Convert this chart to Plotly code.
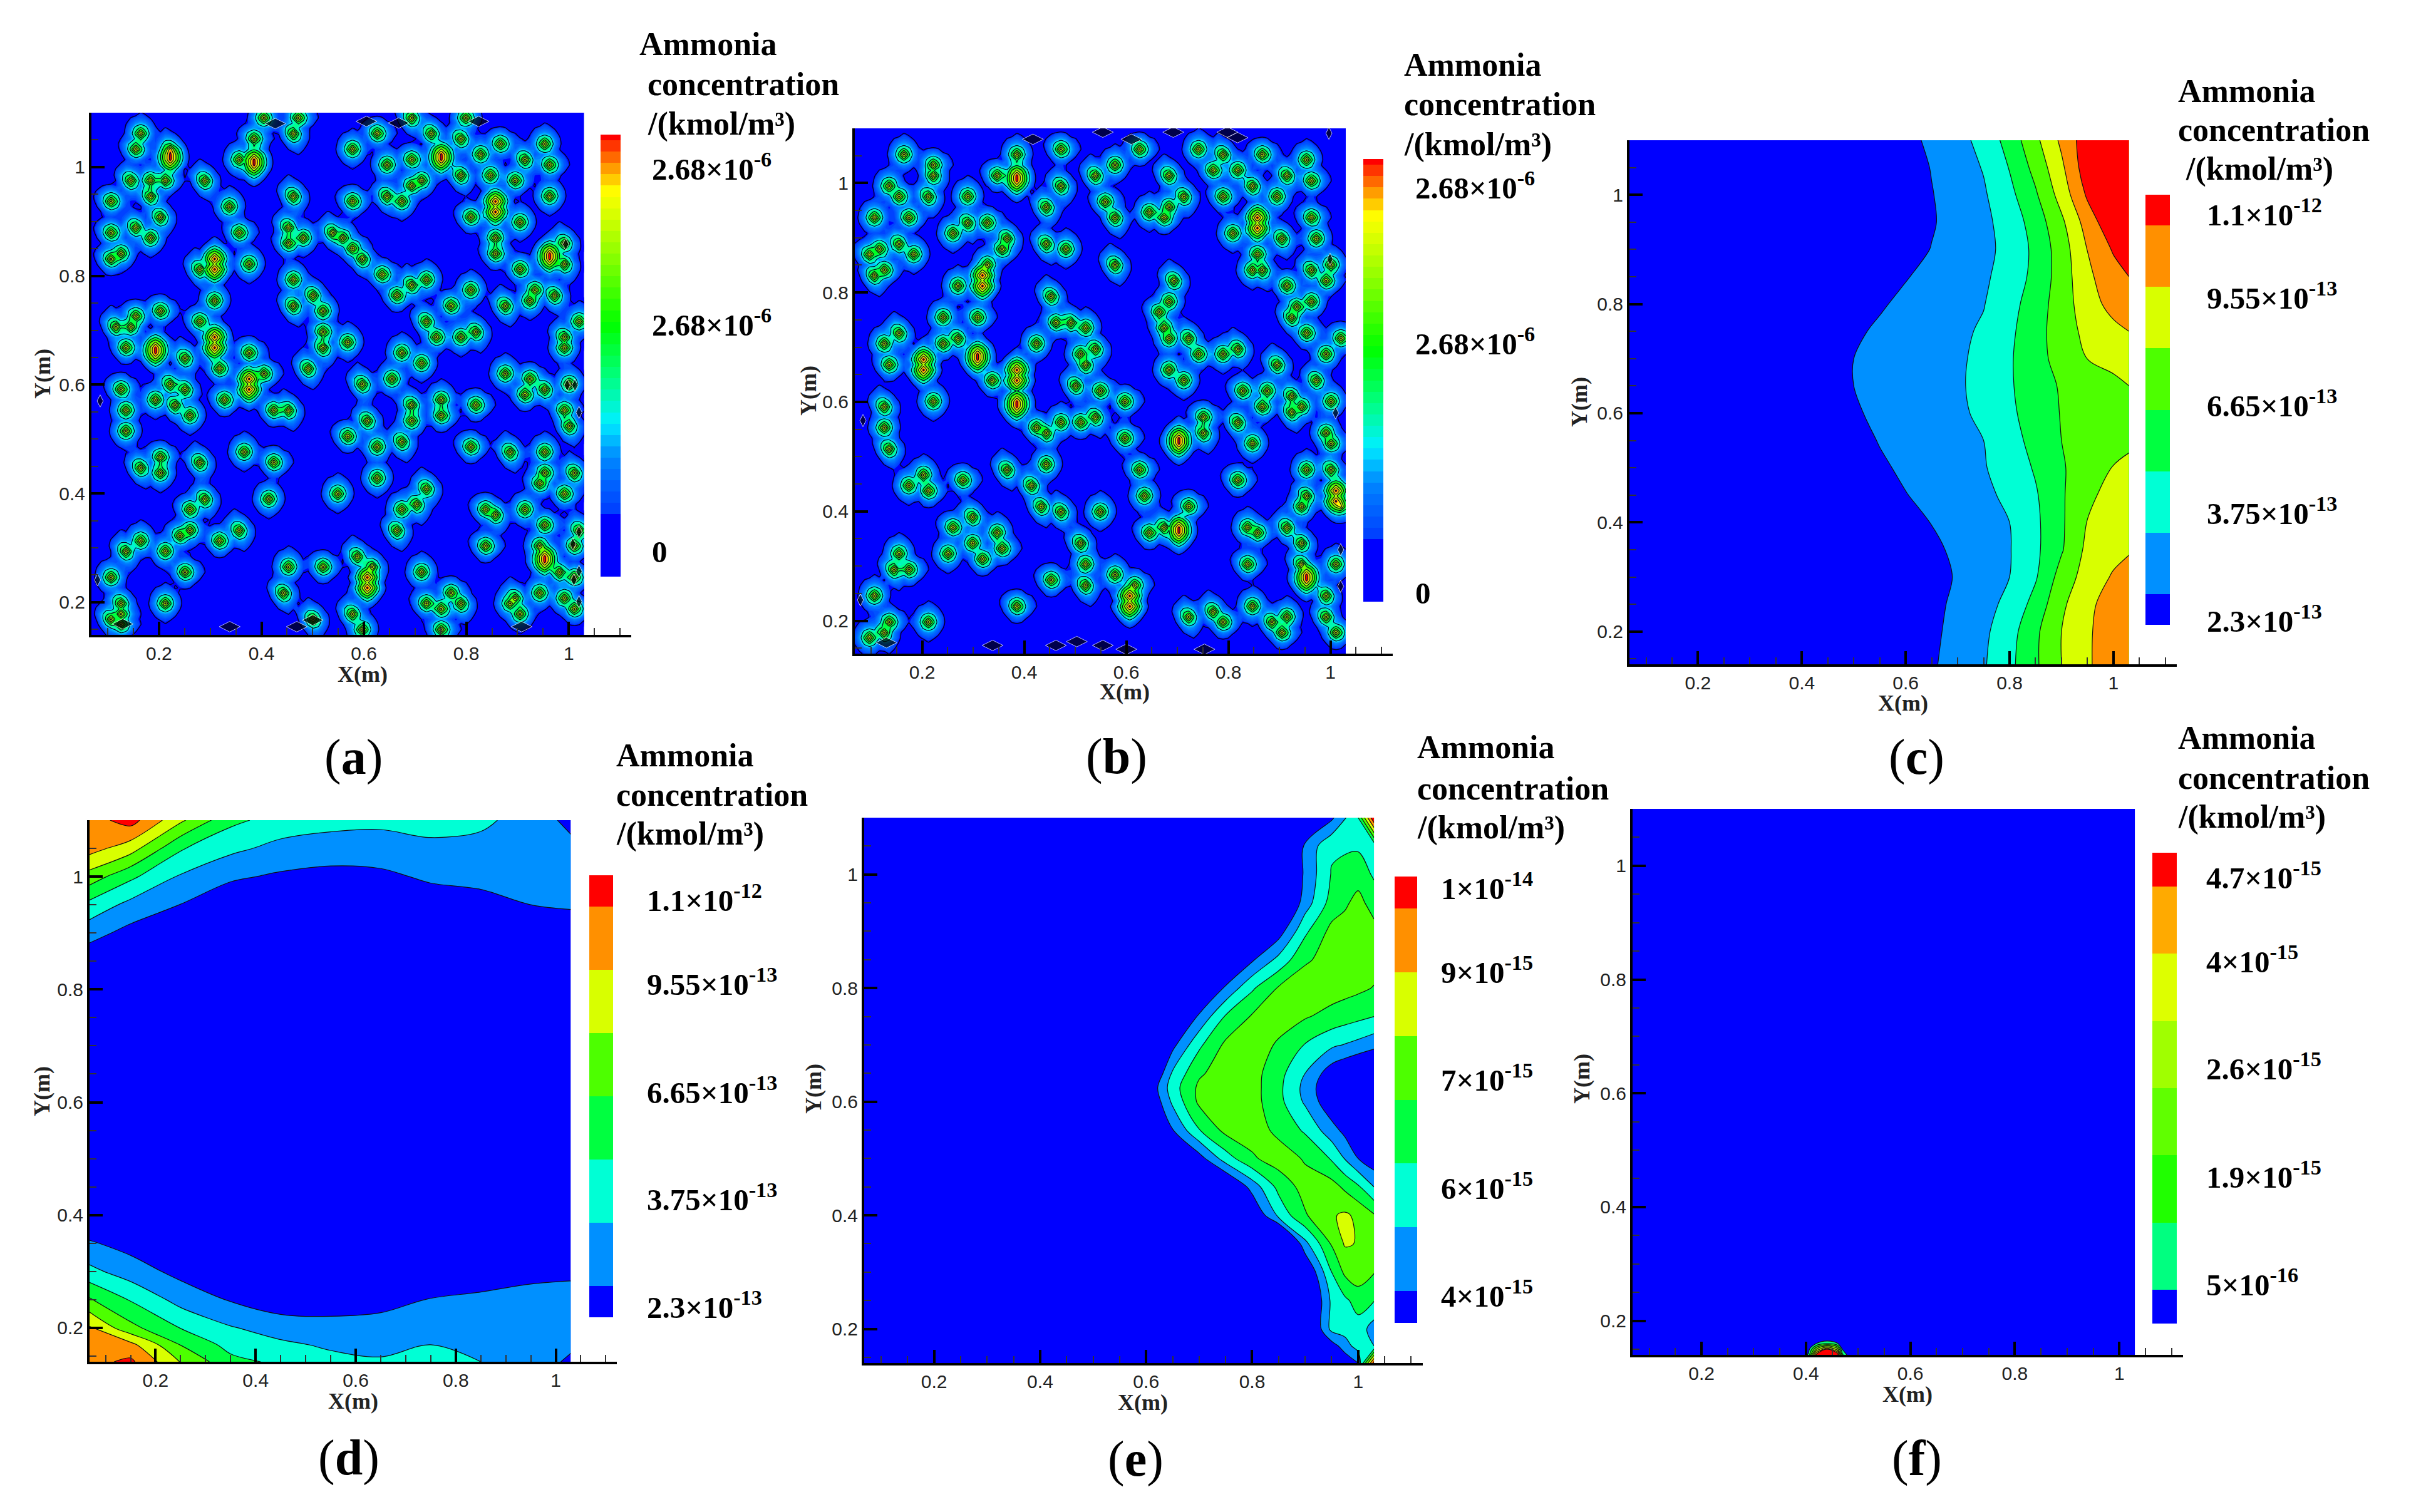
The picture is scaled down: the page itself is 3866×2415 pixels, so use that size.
import numpy as np
import plotly.graph_objects as go

W, H = 3866, 2415
PAGE_MARGIN = 8  # the browser's default body margin

# ---------- panel (a): hot spots ----------
a_spot_x = [.162,.158,.221,.354,.382,.467,.579,.624,.733,.645,.689,.79,.824,.866,.919,.955,.963,.148,.181,.213,.294,.709,.689,.79,.849,.892,.643,.672,.575,.459,.965,.108,.183,.333,.812,.202,.908,.11,.155,.188,.356,.448,.482,.453,.539,.563,.579,.597,.856,.861,.994,.129,.103,.277,.38,.908,.987,.458,.633,.689,.72,.665,.502,.806,.934,.976,.305,.772,.877,.926,.202,.458,.516,.15,.118,.145,.275,.722,1.023,.524,.819,.788,.746,.992,.568,.137,.521,.678,.375,.254,.987,.319,.495,.711,.406,.221,.875,.924,.594,.652,.129,.252,.997,.919,.95,.19,.33,.696,.751,.814,.232,.131,.424,.455,.696,.751,.602,.265,.992,1.0,.137,.573,.675,.626,.807,.89,.953,.207,.28,.369,.427,.169,.207,.953,1.01,.629,.94,.725,.547,.992,.294,.417,.263,.704,.673,.838,.861,.911,.95,.359,.263,.242,.662,.162,.315,1.02,.94,.839,.139,.216,1.008,.584,.455,.524,.615,.711,.246,.984,.108,1.01,.441,.948,.772,.129,.213,.725,.786,.884,.748,.898,.992,.124,.579,.903,1.008,.103,.406,.469,.692,.8,.129,.5,.6,.754]
a_spot_y = [1.057,1.03,1.036,1.014,1.053,1.057,1.029,1.06,1.062,1.003,1.018,1.053,1.026,1.045,1.016,1.045,1.003,.977,.973,.975,.975,.979,.963,.981,.989,.977,.947,.938,.938,.951,.942,.936,.942,.926,.91,.907,.899,.882,.888,.87,.877,.892,.872,.856,.884,.87,.854,.829,.866,.837,.858,.84,.833,.815,.821,.813,.821,.794,.798,.788,.796,.762,.762,.774,.777,.766,.757,.745,.747,.751,.736,.743,.734,.726,.71,.703,.714,.718,.714,.7,.699,.689,.687,.683,.675,.67,.67,.655,.656,.648,.667,.632,.632,.636,.619,.604,.619,.615,.599,.615,.595,.588,.599,.584,.588,.572,.574,.566,.57,.562,.562,.553,.555,.551,.533,.541,.537,.54,.549,.52,.512,.508,.492,.482,.489,.477,.473,.467,.46,.473,.459,.447,.438,.434,.434,.43,.414,.405,.399,.399,.386,.385,.374,.377,.368,.368,.358,.366,.34,.333,.336,.323,.333,.317,.315,.329,.303,.303,.296,.294,.307,.284,.268,.268,.266,.259,.255,.251,.243,.241,.22,.22,.216,.198,.2,.202,.2,.196,.188,.212,.208,.181,.179,.177,.188,.167,1.088,1.09,1.092,1.092,.16,.167,.146,.146]
a_core_x = [.225,.382,.751,.861,.966,.312,.305,.195,.38,.603,.953]
a_core_y = [1.018,1.01,1.02,.928,.837,.821,.678,.664,.599,.237,.278]
a_lens_x = [.085,.08,1.012,.997,1.02,1.02,1.008,1.02,1.01,1.02,.994,.338,.469,.5,.908,.427,.605,.824,.668,.129]
a_lens_y = [.57,.241,.599,.599,.549,.329,.307,.257,.241,.201,.858,.155,.155,.167,.155,1.08,1.084,1.084,1.081,.16]

# ---------- panel (b): hot spots ----------
b_spot_x = [.162,.218,.218,.132,.152,.211,.293,.351,.468,.386,.47,.539,.58,.623,.687,.737,.771,.79,.822,.865,.918,.949,.961,.712,.686,.788,.847,.892,.554,.575,.641,.671,.442,.109,.175,.288,.259,.332,.366,.811,.966,.905,.971,.113,.154,.188,.101,.444,.483,.359,.58,.332,.127,.104,.274,.854,.865,.844,.91,.966,.997,.987,.695,.687,.666,.457,.966,.936,.926,.237,.305,.152,.122,.463,.488,.517,.674,.722,.687,.953,.274,.427,1.02,.819,.79,.737,.544,.508,.239,.9,.992,.139,.519,.679,.34,.498,.712,.549,.972,.223,.595,.127,.875,.824,.926,.946,.865,.921,.997,.753,.814,.987,.422,.447,.468,.508,.542,.127,.6,.753,.844,1.002,.137,.442,.625,.997,.206,.279,.371,.953,.819,.417,.173,.208,.951,.941,1.022,.43,.636,.725,.476,.549,.259,.295,.346,.641,.674,.839,.857,.91,.3,.359,.946,.247,.315,.513,.157,.178,.142,.519,.834,.939,1.007,.454,.522,.58,.615,.987,.109,.386,.722,.844,.786,.885,.916,.905,.987,.211,.132,.122,.101,1.007,.768]
b_spot_y = [1.056,1.034,1.013,.997,.979,.972,.974,1.009,.993,1.052,1.058,1.011,1.03,1.058,1.017,1.058,1.021,1.054,1.025,1.048,1.013,1.046,1.005,.98,.96,.98,.995,.979,.962,.937,.946,.937,.952,.939,.933,.927,.907,.925,.901,.912,.941,.898,.901,.882,.886,.868,.867,.892,.875,.875,.855,.848,.841,.829,.816,.866,.837,.841,.812,.837,.853,.825,.818,.788,.763,.796,.788,.778,.751,.751,.757,.73,.71,.743,.743,.734,.734,.716,.72,.726,.714,.703,.716,.698,.689,.687,.693,.685,.702,.671,.685,.67,.669,.654,.636,.632,.636,.624,.636,.605,.599,.593,.616,.62,.611,.591,.587,.58,.599,.569,.562,.546,.55,.548,.561,.558,.572,.55,.535,.542,.525,.523,.511,.486,.476,.476,.466,.461,.474,.474,.457,.448,.45,.438,.431,.411,.412,.412,.425,.407,.404,.4,.375,.386,.359,.361,.37,.371,.36,.367,.345,.334,.339,.325,.314,.337,.318,.296,.298,.302,.302,.304,.304,.271,.269,.284,.266,.248,.244,.225,.203,.225,.2,.199,.21,.178,.21,.202,.199,.178,.167,.181,.214]
b_core_x = [.384,.86,.315,.305,.198,.383,.381,.707,.702,.951,.603,1.01]
b_core_y = [1.009,.927,.82,.684,.665,.651,.597,.529,.366,.28,.239,.427]
b_lens_x = [.417,.61,.554,.692,.798,.818,.997,.13,.338,.554,.503,.462,.6,.753,.084,.079,1.01,1.02,1.02,.999]
b_lens_y = [1.08,1.08,1.093,1.093,1.093,1.083,1.091,.16,.155,.155,.162,.155,.148,.148,.566,.238,.58,.33,.263,.861]

# hot spot shapes as they look on the mesh: value at each node round the centre (top row first)
spot_stamps = [
 [[0,0,0,.06,.14,.10,0,0,0],
  [0,0,.14,.18,.20,.18,.12,0,0],
  [0,.12,.20,.27,.30,.27,.20,.10,0],
  [0,.16,.26,.42,.52,.42,.26,.16,0],
  [.05,.18,.30,.52,.90,.52,.30,.17,.05],
  [0,.15,.25,.40,.50,.40,.25,.14,0],
  [0,.08,.18,.25,.28,.25,.18,.06,0],
  [0,0,.10,.16,.18,.16,.08,0,0],
  [0,0,0,.04,.12,.04,0,0,0]],
 [[0,0,0,0,.05,0,0,0,0],
  [0,.04,.12,.16,.17,.15,.06,0,0],
  [.04,.14,.20,.26,.30,.26,.18,.14,.04],
  [.10,.17,.28,.42,.52,.42,.28,.18,.12],
  [.08,.16,.28,.52,.90,.54,.32,.20,.14],
  [0,.12,.22,.38,.50,.42,.28,.17,.06],
  [0,0,.14,.22,.27,.24,.16,.08,0],
  [0,0,0,.14,.16,.14,.04,0,0],
  [0,0,0,0,.04,0,0,0,0]],
 [[0,0,.08,.15,.10,0,0,0,0],
  [0,.08,.16,.20,.18,.14,.04,0,0],
  [0,.16,.22,.30,.30,.24,.16,0,0],
  [.06,.18,.30,.46,.50,.38,.20,.14,0],
  [0,.14,.28,.52,.90,.50,.28,.17,.04],
  [0,.08,.22,.38,.52,.42,.26,.16,.06],
  [0,0,.12,.24,.30,.28,.20,.12,0],
  [0,0,0,.14,.20,.20,.15,.04,0],
  [0,0,0,0,.08,.14,.06,0,0]],
]
core_stamp = [
 [0,  0,  0,  .10,.18,.10,0,  0,  0],
 [0,  0,  .12,.20,.26,.22,.12,0,  0],
 [0,  .12,.24,.38,.46,.38,.26,.14,0],
 [.06,.20,.38,.60,.74,.60,.40,.22,.06],
 [.12,.26,.46,.74,1.0,.76,.48,.26,.10],
 [.06,.20,.38,.60,.76,.58,.38,.20,.06],
 [0,  .10,.24,.38,.48,.38,.24,.10,0],
 [0,  0,  .12,.22,.28,.22,.12,0,  0],
 [0,  0,  0,  .10,.16,.10,0,  0,  0],
]

# ---------- panel (c): band index read on a grid ----------
c_x = [.068,.45,.5,.55,.6,.65,.7,.75,.8,.85,.9,.95,1.0,1.03]
c_y = [1.10,1.05,1.0,.95,.9,.85,.8,.75,.7,.65,.6,.55,.5,.45,.4,.35,.3,.25,.2,.14]
c_z = [
 [-2,-.7,-.2,.25,.72,1.19,1.67,2.32,3.4,4.76,6.2,7.6,8.5,9],
 [-2,-.9,-.4,.1,.55,1.04,1.54,2.06,3.05,4.32,5.8,7.6,8.5,9],
 [-2,-1,-.45,.05,.5,.96,1.42,1.88,2.73,3.87,5.4,7.15,8.3,8.8],
 [-2,-1,-.45,.05,.5,.92,1.35,1.77,2.42,3.45,4.8,6.45,7.8,8.5],
 [-2,-.9,-.35,.2,.65,1.03,1.39,1.75,2.29,3.25,4.5,6.02,7.1,7.7],
 [-2,-.5,0,.6,.95,1.25,1.55,1.85,2.4,3.3,4.45,5.8,6.6,7],
 [-2,-.1,.4,.9,1.2,1.45,1.7,1.96,2.65,3.5,4.5,5.55,6.35,6.6],
 [-2,.3,.85,1.14,1.37,1.59,1.81,2.12,2.81,3.6,4.53,5.26,5.73,6],
 [-2,.55,1,1.22,1.43,1.65,1.86,2.23,2.89,3.65,4.36,5.01,5.25,5.4],
 [-2,.55,1,1.22,1.44,1.66,1.88,2.27,2.89,3.54,4.1,4.45,4.8,5],
 [-2,.4,.9,1.17,1.39,1.61,1.84,2.18,2.82,3.43,4.05,4.45,4.6,4.7],
 [-2,.15,.65,1.05,1.29,1.53,1.76,2,2.65,3.3,4,4.45,4.65,4.75],
 [-2,-.1,.4,.85,1.17,1.42,1.67,1.93,2.45,3.1,3.9,4.5,5.04,5.3],
 [-2,-.4,0,.5,.97,1.26,1.53,1.8,2.2,2.9,3.87,4.82,5.3,5.5],
 [-2,-.8,-.35,.1,.55,1.03,1.35,1.68,2,2.8,3.85,5.03,5.5,5.75],
 [-2,-1.1,-.65,-.15,.3,.8,1.19,1.58,1.95,2.79,3.9,5.25,5.7,5.9],
 [-2,-1.3,-.8,-.3,.15,.65,1.09,1.54,2,2.9,4.4,5.45,6.1,6.4],
 [-2,-1.1,-.65,-.2,.3,.75,1.2,1.66,2.27,3.35,4.8,5.8,6.4,6.6],
 [-2,-1.1,-.6,-.1,.35,.8,1.3,1.8,2.6,3.8,5,5.9,6.4,6.6],
 [-2,-1,-.5,0,.4,.88,1.39,1.9,2.75,3.85,5,5.9,6.45,6.6],
]

# ---------- panel (d) ----------
d_x = [.068,.15,.25,.35,.45,.55,.65,.75,.85,.95,1.03]
d_y = [1.10,1.05,1.0,.95,.9,.85,.8,.4,.35,.3,.25,.2,.17,.14]
d_z = [
 [6.6,7.4,5.2,3.25,2.6,2.35,2.25,2.4,2.2,1.6,.7],
 [6.4,5.45,3.1,2.24,1.7,1.5,1.5,1.75,1.7,1.55,1.3],
 [4.57,3.21,1.89,1.16,.85,.7,.8,1.15,1.25,1.3,1.45],
 [2.69,1.7,.98,.3,.1,0,.1,.5,.7,1.0,1.1],
 [1.38,.66,.1,-.3,-.4,-.5,-.4,-.1,0,.4,.5],
 [.3,-.3,-.6,-.8,-.9,-1,-.9,-.6,-.5,-.2,0],
 [-1,-1,-1,-1,-1,-1,-1,-1,-1,-1,-1],
 [.08,-.2,-1,-1,-1,-1,-1,-1,-1,-1,-.5],
 [1.11,.63,-.2,-1,-1,-1,-1,-.9,-.6,0,.1],
 [2.28,1.49,.7,-.2,-.2,-.2,-.1,0,.6,.8,.85],
 [4.13,2.92,1.63,.92,.4,.5,.7,1.05,1.15,1.25,1.3],
 [6.1,4.3,2.97,2.08,1.55,1.35,1.35,1.65,1.55,1.4,1.4],
 [6.5,6.3,3.97,2.65,2.2,1.85,1.75,2,1.8,1.45,1.1],
 [6.7,7.2,4.95,3.3,2.8,2.3,2.1,2.2,2.0,1.3,.9],
]

# ---------- panel (e) ----------
e_x = [.068,.55,.6,.65,.7,.75,.8,.85,.9,.95,.975,1.0,1.03]
e_y = [1.10,1.05,1.0,.95,.9,.85,.8,.75,.7,.65,.625,.6,.55,.5,.45,.4,.35,.3,.25,.2,.17,.14]
e_z = [
 [-4,-4,-4,-4,-4,-3,-3,-2,-1.2,.8,1.9,3.0,8],
 [-4,-4,-4,-4,-4,-3,-3,-1.2,1.2,2.85,2.85,2.85,2.3],
 [-4,-4,-4,-4,-4,-3,-3,-1.2,1.2,3.07,3.35,3.6,2.85],
 [-4,-4,-4,-4,-4,-3,-3,-1,1.5,3.4,3.85,4.3,3.6],
 [-4,-4,-4,-4,-3,-3,-2,.5,2.8,4.3,4.4,4.5,4.3],
 [-4,-4,-4,-4,-3,-.5,.85,2.3,3.85,4.4,4.45,4.5,4.4],
 [-4,-4,-4,-3,-.5,1.15,2.85,4.1,4.6,4.5,4.35,4.2,3.95],
 [-4,-4,-3,-.6,1.15,3.1,4.1,4.5,4.1,3.65,3.45,3.25,3.0],
 [-4,-3,-2,.7,2.8,4.2,4.6,3.85,2.95,2.2,1.95,1.7,1.35],
 [-3,-2,-1,2.15,3.85,4.5,4.4,3.35,2,.4,-.05,-.5,-1],
 [-3,-1.5,-.2,2.55,4.2,4.6,4.4,3.25,1.7,0,-.5,-1,-1.5],
 [-3,-2,-.5,2.2,4.2,4.6,4.4,3.3,1.85,.2,-.4,-1,-1.5],
 [-4,-3,-2,.95,2.95,4.3,4.5,3.75,2.85,1.4,.7,0,-.5],
 [-4,-4,-3,-2,.55,2.5,3.85,4.5,3.9,2.9,1.95,1.0,.3],
 [-4,-4,-4,-3,-3,-.6,1.4,3.3,4.4,4.4,3.8,3.15,2.0],
 [-4,-4,-4,-4,-3,-2,-.2,2.25,3.9,4.9,5.15,4.8,4.1],
 [-4,-4,-4,-4,-4,-3,-3,-2,1.7,4.1,5.1,4.95,4.5],
 [-4,-4,-4,-4,-4,-3,-3,-2,-.3,3.0,4.2,4.6,4.05],
 [-4,-4,-4,-4,-4,-3,-3,-2,-1,2.2,2.8,3.4,3.05],
 [-4,-4,-4,-4,-4,-3,-3,-2,-1,2.3,2.45,2.6,1.5],
 [-4,-4,-4,-4,-4,-3,-3,-2,-1,.5,1.5,2.5,2],
 [-4,-4,-4,-4,-4,-3,-3,-2,-1,-.5,.25,1.0,7.5],
]

# ---------- panel (f) ----------
f_x = [.068,.39,.405,.42,.44,.46,.47,.485,1.03]
f_y = [1.10,.17,.16,.15,.14]
f_z = [
 [0,0,0,0,0,0,0,0,0],
 [0,0,0,0,0,0,0,0,0],
 [0,0,0,1.0,1.8,1.1,0,0,0],
 [0,0,.6,4,7,4.5,.9,0,0],
 [0,0,1.2,7.5,9,8,2.2,0,0],
]

band_colors = ["#0000ff","#0090ff","#00ffd5","#00ff40","#4dff00","#d8ff00","#ff9000","#ff0000"]
band_colors_f = ["#0000ff","#00ff80","#20ff00","#60ff00","#a0ff00","#ddff00","#ffaa00","#ff0000"]
smooth_scale = [[0,"#0000ff"],[.13,"#0000ff"],[.15,"#0040ff"],[.27,"#0088ff"],[.35,"#00f0ff"],[.45,"#00ff80"],[.57,"#00ff00"],[.75,"#a0ff00"],[.87,"#ffff00"],[.93,"#ff9000"],[1,"#ff0000"]]

legend_a = ["2.68×10<sup>-6</sup>","2.68×10<sup>-6</sup>","0"]
legend_c = ["1.1×10<sup>-12</sup>","9.55×10<sup>-13</sup>","6.65×10<sup>-13</sup>","3.75×10<sup>-13</sup>","2.3×10<sup>-13</sup>"]
legend_e = ["1×10<sup>-14</sup>","9×10<sup>-15</sup>","7×10<sup>-15</sup>","6×10<sup>-15</sup>","4×10<sup>-15</sup>"]
legend_f = ["4.7×10<sup>-15</sup>","4×10<sup>-15</sup>","2.6×10<sup>-15</sup>","1.9×10<sup>-15</sup>","5×10<sup>-16</sup>"]

panels = [
 dict(n="a", box=(146,1008,180,1014), bar=(959,991,215,921), xt=(579,1077), yt=(68,597), let=(564,1209),
      hd=[(1019,71),(1032,134),(1032,198)], lx=1039, ly=[266,515,881], lab=legend_a),
 dict(n="b", box=(1365,2224,205,1044), bar=(2177,2209,254,961), xt=(1796,1105), yt=(1291,624), let=(1783,1208),
      hd=[(2240,103),(2240,167),(2240,231)], lx=2258, ly=[296,546,947], lab=legend_a),
 dict(n="c", box=(2602,3476,224,1061), bar=(3426,3465,311,998), xt=(3039,1123), yt=(2522,642), let=(3060,1209),
      hd=[(3476,145),(3476,208),(3488,270)], lx=3522, ly=[339,472,644,817,988], lab=legend_c),
 dict(n="d", box=(143,985,1310,2175), bar=(941,979,1398,2104), xt=(564,2238), yt=(67,1743), let=(557,2328),
      hd=[(982,1206),(982,1269),(982,1332)], lx=1031, ly=[1434,1568,1741,1912,2084], lab=legend_c),
 dict(n="e", box=(1380,2272,1306,2177), bar=(2227,2263,1400,2113), xt=(1825,2240), yt=(1299,1739), let=(1813,2330),
      hd=[(2261,1194),(2261,1259),(2261,1322)], lx=2299, ly=[1415,1549,1721,1894,2066], lab=legend_e),
 dict(n="f", box=(2607,3486,1292,2164), bar=(3437,3476,1362,2114), xt=(3046,2227), yt=(2526,1723), let=(3061,2329),
      hd=[(3476,1178),(3476,1242),(3476,1305)], lx=3521, ly=[1398,1532,1703,1876,2048], lab=legend_f),
]

SERIF = "Liberation Serif"
SANS = "Liberation Sans"
fig = go.Figure()
ann = []

def px(x): return (x - PAGE_MARGIN) / W
def py(y): return 1 - (y - PAGE_MARGIN) / H

def add_text(x, y, text, size, family=SERIF, anchor="left", angle=0, color="#000"):
    ann.append(dict(x=px(x), y=py(y), xref="paper", yref="paper", text=text, showarrow=False,
                    xanchor=anchor, yanchor="middle", textangle=angle,
                    font=dict(family=family, size=size, color=color)))

def colorbar(bar):
    return dict(x=px(bar[0]), xanchor="left", y=py(bar[2]), yanchor="top", xref="paper", yref="paper",
                len=bar[3]-bar[2], lenmode="pixels", thickness=bar[1]-bar[0], thicknessmode="pixels",
                xpad=0, ypad=0, outlinewidth=0, borderwidth=0, ticks="", showticklabels=False)

def spot_grid(sx, sy, cx, cy):
    gx = np.linspace(.068, 1.03, 101)
    gy = np.linspace(.14, 1.10, 101)
    z = np.zeros((gy.size, gx.size))
    def stamp(x, y, st):
        st = np.array(st)
        ci = int(np.abs(gy - y).argmin()); cj = int(np.abs(gx - x).argmin())
        for di in range(-4, 5):
            for dj in range(-4, 5):
                i, j = ci + di, cj + dj
                if 0 <= i < gy.size and 0 <= j < gx.size:
                    z[i, j] = max(z[i, j], st[4 - di, dj + 4])
    for n, (x, y) in enumerate(zip(sx, sy)):
        stamp(x, y, spot_stamps[n % len(spot_stamps)])
    for x, y in zip(cx, cy):
        stamp(x, y - .008, core_stamp)
        stamp(x, y + .008, core_stamp)
    return gx, gy, z

def add_spots(k, p, sx, sy, cx, cy, lx, ly):
    ax = dict(xaxis=f"x{k}", yaxis=f"y{k}")
    gx, gy, z = spot_grid(sx, sy, cx, cy)
    fig.add_trace(go.Contour(x=gx, y=gy, z=z, colorscale=smooth_scale, autocontour=False,
                             contours=dict(start=.025, end=.975, size=.025, coloring="fill", showlines=False),
                             line=dict(width=0, smoothing=.5), colorbar=colorbar(p["bar"]), hoverinfo="skip", **ax))
    for st, en, sz, w in ((.13, .13, 1, 1.4), (.36, .98, .12, 1.2)):
        fig.add_trace(go.Contour(x=gx, y=gy, z=z, autocontour=False, showscale=False,
                                 contours=dict(start=st, end=en, size=sz, coloring="none"),
                                 line=dict(color="#050520", width=w, smoothing=.5), hoverinfo="skip", **ax))
    side = [x < .09 or x > .99 for x in lx]
    fig.add_trace(go.Scatter(x=lx, y=ly, mode="markers", hoverinfo="skip", showlegend=False,
                             marker=dict(symbol=["diamond-tall" if s else "diamond-wide" for s in side],
                                         size=[14 if s else 24 for s in side], color="#000"), **ax))

def add_bands(k, p, xs, ys, zs, colors):
    ax = dict(xaxis=f"x{k}", yaxis=f"y{k}")
    ya = ys[::-1]; za = zs[::-1]
    scale = [[i / 7, c] for i, c in enumerate(colors)]
    fig.add_trace(go.Contour(x=xs, y=ya, z=za, colorscale=scale, autocontour=False,
                             contours=dict(start=1, end=7, size=1, coloring="fill", showlines=False),
                             line=dict(width=0, smoothing=1), colorbar=colorbar(p["bar"]), hoverinfo="skip", **ax))
    fig.add_trace(go.Contour(x=xs, y=ya, z=za, autocontour=False, showscale=False,
                             contours=dict(start=1, end=7, size=1, coloring="none"),
                             line=dict(color="#101010", width=1.2, smoothing=1), hoverinfo="skip", **ax))

layout = {}
for k, p in enumerate(panels, 1):
    x0, x1, y0, y1 = p["box"]
    tick = dict(ticks="inside", ticklen=21, tickwidth=4, tickcolor="#000", showline=True, linecolor="#000",
                linewidth=4, showgrid=False, zeroline=False, dtick=.2, tick0=.2, mirror=False,
                tickfont=dict(family=SANS, size=30, color="#222"),
                minor=dict(ticks="inside", ticklen=11, tickwidth=2, tickcolor="#333", dtick=.05, tick0=.2, showgrid=False))
    layout[f"xaxis{k}"] = dict(domain=[px(x0), px(x1)], range=[.068, 1.122], anchor=f"y{k}", **tick)
    layout[f"yaxis{k}"] = dict(domain=[py(y1), py(y0)], range=[.14, 1.10], anchor=f"x{k}", **tick)
    for (hx, hy), t in zip(p["hd"], ["Ammonia", "concentration", "/(kmol/m³)"]):
        add_text(hx, hy, f"<b>{t}</b>", 52)
    for t, y in zip(p["lab"], p["ly"]):
        add_text(p["lx"], y, f"<b>{t}</b>", 49)
    add_text(p["xt"][0], p["xt"][1], "<b>X(m)</b>", 36, anchor="center", color="#222")
    add_text(p["yt"][0], p["yt"][1], "<b>Y(m)</b>", 36, anchor="center", angle=-90, color="#222")
    add_text(p["let"][0], p["let"][1], f"({'<b>'+p['n']+'</b>'})", 80, anchor="center")

add_spots(1, panels[0], a_spot_x, a_spot_y, a_core_x, a_core_y, a_lens_x, a_lens_y)
add_spots(2, panels[1], b_spot_x, b_spot_y, b_core_x, b_core_y, b_lens_x, b_lens_y)
add_bands(3, panels[2], c_x, c_y, c_z, band_colors)
add_bands(4, panels[3], d_x, d_y, d_z, band_colors)
add_bands(5, panels[4], e_x, e_y, e_z, band_colors)
add_bands(6, panels[5], f_x, f_y, f_z, band_colors_f)

fig.update_layout(width=W, height=H, margin=dict(l=0, r=0, t=0, b=0, autoexpand=False),
                  paper_bgcolor="#fff", plot_bgcolor="#fff", showlegend=False, annotations=ann, **layout)
fig.write_html("out.html")
